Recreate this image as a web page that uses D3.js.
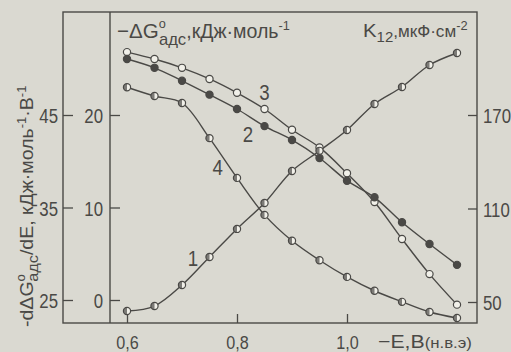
<!DOCTYPE html>
<html>
<head>
<meta charset="utf-8">
<script src="https://cdn.jsdelivr.net/npm/d3@7"></script>
<style>
  html, body { margin: 0; padding: 0; background: #dad9d1; }
  svg { display: block; }
  text { font-family: "Liberation Sans", Arial, sans-serif; fill: #4a4946; }
</style>
</head>
<body>
<svg id="chart" width="511" height="352"></svg>
<script>
// Potential, −E, V (n.h.e.)
const potential = [0.60, 0.65, 0.70, 0.75, 0.80, 0.85, 0.90, 0.95, 1.00, 1.05, 1.10, 1.15, 1.20];
// Curve 1: K12, µF·cm⁻² (right axis)
const k12 = [44.2, 47.4, 60.9, 78.9, 96.9, 113.5, 134.1, 147.0, 160.4, 177.1, 188.0, 202.1, 209.8];
// Curve 2: −ΔG°ads, kJ/mol (filled markers)
const gibbs2 = [26.05, 25.1, 23.7, 22.2, 20.65, 18.8, 17.3, 15.35, 12.9, 11.1, 8.4, 6.05, 3.8];
// Curve 3: −ΔG°ads, kJ/mol (open markers)
const gibbs3 = [26.8, 26.05, 25.1, 23.9, 22.4, 20.65, 18.4, 16.5, 13.7, 10.6, 6.6, 2.8, -0.5];
// Curve 4: −dΔG°ads/dE, kJ/(mol·V)
const slope4 = [48.0, 47.05, 46.3, 42.5, 38.2, 34.2, 31.4, 29.3, 27.5, 26.0, 24.8, 23.7, 23.05];

const xTicks = [0.6, 0.8, 1.0];
const xTickLabels = ["0,6", "0,8", "1,0"];
const gibbsTicks = [0, 10, 20];
const slopeTicks = [25, 35, 45];
const k12Ticks = [50, 110, 170];

const ink = "#4a4946";
const svg = d3.select("#chart");

const frame = { outerLeft: 63, left: 110, right: 477, top: 12, bottom: 323 };

const x = d3.scaleLinear().domain([0.6, 1.2]).range([127, 457]);
const yG = d3.scaleLinear().domain([0, 20]).range([300, 115]);
const yS = d3.scaleLinear().domain([25, 45]).range([300, 115]);
const yK = d3.scaleLinear().domain([50, 170]).range([302, 115]);

// frame: outer box plus the inner axis line
svg.append("rect")
  .attr("x", frame.outerLeft).attr("y", frame.top)
  .attr("width", frame.right - frame.outerLeft).attr("height", frame.bottom - frame.top)
  .attr("fill", "none").attr("stroke", ink).attr("stroke-width", 1.4);
svg.append("line")
  .attr("x1", frame.left).attr("x2", frame.left)
  .attr("y1", frame.top).attr("y2", frame.bottom)
  .attr("stroke", ink).attr("stroke-width", 1.4);

// narrow lettering: glyphs squeezed horizontally
const squeeze = 0.8;
function styleTicks(g, dx, anchor, size, sx) {
  g.select(".domain").remove();
  g.selectAll(".tick line").attr("stroke", ink).attr("stroke-width", 1.3);
  g.selectAll(".tick text")
    .attr("x", dx / sx).attr("text-anchor", anchor)
    .attr("transform", `scale(${sx},1)`)
    .attr("font-size", size).attr("fill", ink).attr("dy", "0.36em");
}

// outer left axis (−dΔG/dE)
const gS = svg.append("g").attr("transform", `translate(${frame.outerLeft},0)`)
  .call(d3.axisRight(yS).tickValues(slopeTicks).tickSize(10).tickFormat(d3.format("d")));
styleTicks(gS, -5, "end", 21, squeeze);

// inner left axis (−ΔG)
const gG = svg.append("g").attr("transform", `translate(${frame.left},0)`)
  .call(d3.axisRight(yG).tickValues(gibbsTicks).tickSize(10).tickFormat(d3.format("d")));
styleTicks(gG, -7, "end", 21, squeeze);

// right axis (K12)
const gK = svg.append("g").attr("transform", `translate(${frame.right},0)`)
  .call(d3.axisLeft(yK).tickValues(k12Ticks).tickSize(9).tickFormat(d3.format("d")));
styleTicks(gK, 6, "start", 21, squeeze);

// bottom axis (potential)
const gX = svg.append("g").attr("transform", `translate(0,${frame.bottom})`)
  .call(d3.axisTop(x).tickValues(xTicks).tickSize(9).tickFormat((d, i) => xTickLabels[i]));
gX.select(".domain").remove();
gX.selectAll(".tick line").attr("stroke", ink).attr("stroke-width", 1.3);
gX.selectAll(".tick text").attr("y", 26).attr("dy", 0).attr("text-anchor", "middle")
  .attr("transform", "scale(0.85,1)")
  .attr("font-size", 19).attr("fill", ink);

// curves
const series = [
  { values: gibbs3, y: yG, marker: "open" },
  { values: gibbs2, y: yG, marker: "filled" },
  { values: slope4, y: yS, marker: "half" },
  { values: k12, y: yK, marker: "half" }
];

series.forEach(s => {
  s.pts = potential.map((e, i) => [x(e), s.y(s.values[i])]);
  svg.append("path")
    .attr("d", d3.line().curve(d3.curveCatmullRom.alpha(0.5))(s.pts))
    .attr("fill", "none").attr("stroke", ink).attr("stroke-width", 1.4);
});

const r = 3.6;
const halfArc = d3.arc().innerRadius(0).outerRadius(r).startAngle(Math.PI).endAngle(2 * Math.PI);
series.forEach(s => {
  const g = svg.append("g");
  s.pts.forEach(([px, py]) => {
    g.append("circle").attr("cx", px).attr("cy", py).attr("r", r)
      .attr("fill", s.marker === "filled" ? ink : "#f1f0e9")
      .attr("stroke", ink).attr("stroke-width", 1.2);
    if (s.marker === "half") {
      g.append("path").attr("d", halfArc()).attr("transform", `translate(${px},${py})`)
        .attr("fill", ink).attr("opacity", 0.7);
    }
  });
});

// curve numbers
const curveLabels = [
  { t: "3", x: 0.85, y: 92 },
  { t: "2", x: 0.82, y: 134 },
  { t: "4", x: 0.765, y: 167 },
  { t: "1", x: 0.72, y: 258 }
];
curveLabels.forEach(d => {
  svg.append("text").attr("transform", `translate(${x(d.x)},${d.y}) scale(0.85,1)`)
    .attr("dy", "0.36em").attr("text-anchor", "middle").attr("font-size", 22).text(d.t);
});

// builds a composite title and stretches it to the given run length
function fitTitle(x0, y0, length, parts, rotate) {
  const g = svg.append("g");
  const t = g.append("text");
  parts.forEach(p => {
    const s = t.append("tspan").attr("font-size", p.size).text(p.text);
    if (p.dx) s.attr("dx", p.dx);
    if (p.dy) s.attr("dy", p.dy);
  });
  const bb = g.node().getBBox();
  const k = length / bb.width;
  g.attr("transform", `translate(${x0},${y0})${rotate ? " rotate(-90)" : ""} scale(${k},1) translate(${-bb.x},0)`);
  return g;
}

// −ΔG°адс, кДж·моль⁻¹
fitTitle(117, 38, 173, [
  { text: "−ΔG", size: 21 },
  { text: "o", size: 13, dy: -10 },
  { text: "адс", size: 17, dx: -7, dy: 17 },
  { text: ",кДж·моль", size: 20, dy: -7 },
  { text: "-1", size: 13, dy: -8 }
]);

// K₁₂, мкФ·см⁻²
fitTitle(363, 37, 105, [
  { text: "K", size: 19 },
  { text: "12", size: 14, dy: 5 },
  { text: ",мкФ·см", size: 16, dy: -5 },
  { text: "-2", size: 12, dy: -7 }
]);

// −E, В (н.в.э)
fitTitle(378, 348, 94, [
  { text: "−E,В", size: 19 },
  { text: "(н.в.э)", size: 15 }
]);

// −dΔG°адс/dE, кДж·моль⁻¹·В⁻¹
fitTitle(33, 327, 242, [
  { text: "-dΔG", size: 18 },
  { text: "o", size: 12, dy: -8 },
  { text: "адс", size: 15, dx: -7, dy: 13 },
  { text: "/dE, кДж·моль", size: 18, dy: -5 },
  { text: "-1", size: 12, dy: -7 },
  { text: "·В", size: 18, dy: 7 },
  { text: "-1", size: 12, dy: -7 }
], true);
</script>
</body>
</html>
